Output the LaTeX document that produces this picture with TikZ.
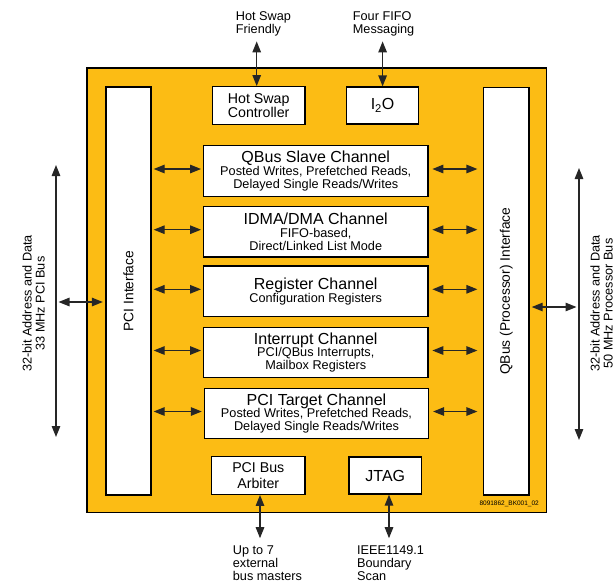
\documentclass[tikz,border=0pt]{standalone}
\usepackage{fontspec}
\setmainfont{Liberation Sans}
\usetikzlibrary{arrows.meta,calc}
\definecolor{chiporange}{RGB}{252,188,20}
\newcommand\chtitle{\fontsize{16}{12.7}\selectfont}
\begin{document}
\begin{tikzpicture}[x=1pt,y=-1pt,
  blk/.style={draw, line width=1.3pt, fill=white, inner sep=0pt, align=center},
  chan/.style={blk, minimum width=224.5pt, minimum height=50.5pt, font=\fontsize{12.7}{12.7}\selectfont},
  dbl/.style={{Triangle[length=11pt,width=8.5pt]}-{Triangle[length=11pt,width=8.5pt]}, line width=1.3pt, draw=black!85},
  lbl/.style={font=\fontsize{12.7}{13}\selectfont, align=left, inner sep=0pt},
  ifc/.style={font=\fontsize{13.8}{14}\selectfont, rotate=90, inner sep=0pt}
]
\useasboundingbox (0,0) rectangle (615,582);

% chip outline
\node[draw, line width=1.3pt, fill=chiporange, minimum width=459.5pt, minimum height=444.5pt, inner sep=0pt] (chip) at (316.75,290.25) {};

% interfaces
\node[blk, minimum width=45pt, minimum height=408pt] (pci) at (128.5,291) {};
\node[ifc] (pcit) at (pci.center) {PCI Interface};
\node[blk, minimum width=45.7pt, minimum height=407.5pt] (qb) at (506.2,291.2) {};
\node[ifc] (qbt) at (qb.center) {QBus (Processor) Interface};

% top blocks
\node[blk, minimum width=92.7pt, minimum height=37.8pt, font=\fontsize{14.2}{12.9}\selectfont] (hs) at (258.7,105.6) {Hot Swap\\Controller};
\node[blk, minimum width=71.8pt, minimum height=37pt, font=\fontsize{16}{16}\selectfont] (i2o) at (382.6,105.5) {I\textsubscript{2}O};

% channels
\node[chan] (qs) at (315.75,171) {{\chtitle QBus Slave Channel}\\Posted Writes, Prefetched Reads,\\Delayed Single Reads/Writes};
\node[chan] (dma) at (315.75,231.7) {{\chtitle IDMA/DMA Channel}\\FIFO-based,\\Direct/Linked List Mode};
\node[chan] (reg) at (315.75,291.3) {{\chtitle Register Channel}\\Configuration Registers};
\node[chan] (irq) at (315.75,352.5) {{\chtitle Interrupt Channel}\\PCI/QBus Interrupts,\\Mailbox Registers};
\node[chan] (tgt) at (316.5,413.5) {{\chtitle PCI Target Channel}\\Posted Writes, Prefetched Reads,\\Delayed Single Reads/Writes};

% bottom blocks
\node[blk, minimum width=93.3pt, minimum height=37.6pt, font=\fontsize{14.2}{15.6}\selectfont] (arb) at (258.3,475.5) {PCI Bus\\Arbiter};
\node[blk, minimum width=72.7pt, minimum height=37pt, font=\fontsize{16}{16}\selectfont] (jtag) at (385.3,475.5) {JTAG};

\node[font=\fontsize{6.5}{6.5}\selectfont, anchor=east, inner sep=0pt] (code) at (539,504) {8091862\_BK001\_02};

% channel arrows
\foreach \c in {qs,dma,reg,irq,tgt}{
  \draw[dbl] ([xshift=2pt,yshift=2pt]pci.east |- \c.west) -- ([xshift=-1.8pt,yshift=2pt]\c.west);
  \draw[dbl] ([xshift=3.7pt,yshift=2pt]\c.east) -- ([xshift=-5.3pt,yshift=2pt]qb.west |- \c.east);
}

% top labels and arrows
\node[lbl, anchor=north west] (hsf) at (235.7,11) {Hot Swap\\Friendly};
\node[lbl, anchor=north west] (fifo) at (352.7,11) {Four FIFO\\Messaging};
\draw[dbl] ([xshift=-2pt]hs.north) -- ([xshift=-2pt,yshift=-5.5pt]hs.north |- hsf.south);
\draw[dbl] (i2o.north) -- ([yshift=-5.5pt]i2o.north |- fifo.south);

% bottom labels and arrows
\node[lbl, anchor=north west] (ext) at (232.7,545.2) {Up to 7\\external\\bus masters};
\node[lbl, anchor=north west] (ieee) at (357,545.2) {IEEE1149.1\\Boundary\\Scan};
\draw[dbl] ([xshift=1.7pt]arb.south) -- ([xshift=1.7pt,yshift=7pt]arb.south |- ext.north);
\draw[dbl] ([xshift=3.7pt]jtag.south) -- ([xshift=3.7pt,yshift=7pt]jtag.south |- ieee.north);

% PCI bus side
\coordinate (pl1) at (56,165);
\coordinate (pl2) at (56,437);
\coordinate (pcl) at (56,302);
\draw[dbl] (pl1) -- (pl2);
\draw[dbl] ([xshift=2.5pt]pcl) -- ([xshift=-2.5pt]pcl -| pci.west);
\node[lbl, align=center, rotate=90] (pcibus) at (33.5,303.5) {32-bit Address and Data\\33 MHz PCI Bus};

% processor bus side
\coordinate (pr1) at (579,168);
\coordinate (pr2) at (579,440);
\coordinate (prl) at (579,307);
\draw[dbl] (pr1) -- (pr2);
\draw[dbl] ([xshift=2pt]prl -| qb.east) -- ([xshift=-2.5pt]prl);
\node[lbl, align=center, rotate=90] (procbus) at (601.5,303.5) {32-bit Address and Data\\50 MHz Processor Bus};
\end{tikzpicture}
\end{document}
